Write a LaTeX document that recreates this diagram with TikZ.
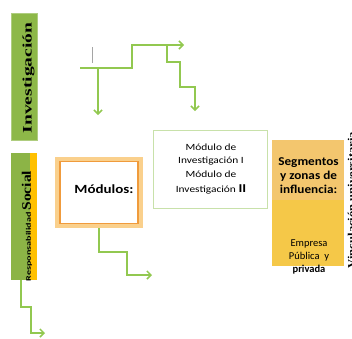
\documentclass[tikz,border=0pt]{standalone}
\usepackage{fontspec}
\setmainfont{Liberation Serif}
\newfontfamily\calib{Carlito}
\usetikzlibrary{arrows.meta}
\definecolor{lgreen}{RGB}{146,200,80}
\definecolor{invgreen}{RGB}{141,184,72}
\definecolor{rgreen}{RGB}{140,180,70}
\definecolor{ryellow}{RGB}{255,192,0}
\definecolor{oglow}{RGB}{250,208,140}
\definecolor{oline}{RGB}{240,155,60}
\definecolor{mgreen}{RGB}{200,225,170}
\definecolor{segtan}{RGB}{243,198,110}
\definecolor{segyel}{RGB}{245,200,72}
\definecolor{lgray}{RGB}{165,165,165}
\tikzset{
  conn/.style={draw=lgreen, line width=1.5pt},
  arr/.style={conn, -{Straight Barb[length=4pt,width=8pt]}},
  grayline/.style={draw=lgray, line width=1pt},
  box/.style={inner sep=0pt, outer sep=0pt},
}
\begin{document}
\begin{tikzpicture}[x=1pt,y=-1pt]
\useasboundingbox (0,0) rectangle (352,338);
% Investigacion
\node[box, fill=invgreen, draw=invgreen!70!white, minimum width=26pt, minimum height=127pt] (invbox) at (24,76.5) {};
\node[rotate=90, inner sep=0pt, font=\bfseries\fontsize{13}{13}\selectfont] (invtxt) at (28.5,78) {\scalebox{1.5}[1]{Investigación}};
% Responsabilidad Social
\node[box, fill=rgreen, minimum width=19pt, minimum height=127pt] (respg) at (20.5,216.5) {};
\node[box, fill=ryellow, minimum width=7pt, minimum height=127pt] (respy) at (33.5,216.5) {};
\node[rotate=90, inner sep=0pt] (resptxt) at (27,226) {\scalebox{1.45}[1]{\calib\bfseries\fontsize{7}{7}\selectfont Responsabilidad}\,\scalebox{1.2}[1]{\bfseries\fontsize{13}{13}\selectfont Social}};
% Modulos
\node[box, fill=oglow, minimum width=88pt, minimum height=71pt] (modglow) at (99,192.5) {};
\node[box, draw=oline, line width=1.2pt, fill=white, minimum width=78pt, minimum height=62pt] (mod) at (99,192.5) {};
\node[inner sep=0pt, font=\calib\bfseries\fontsize{12.5}{14}\selectfont] (modtxt) at (104,189) {\scalebox{1.2}[1]{Módulos:}};
% Modulo de investigacion
\node[box, draw=mgreen, line width=0.8pt, fill=white, minimum width=114pt, minimum height=78pt] (inv2) at (210,169) {};
\node[inner sep=0pt, align=center, font=\calib\fontsize{9.5}{13.5}\selectfont] (inv2txt) at (211,169) {\scalebox{1.2}[1]{\begin{tabular}{@{}c@{}}Módulo de\\Investigación I\\Módulo de\\[2pt]Investigación {\bfseries\fontsize{12}{12}\selectfont II}\end{tabular}}};
% Segmentos
\node[box, fill=segtan, minimum width=72pt, minimum height=60pt] (seg) at (308,170) {};
\node[box, fill=segyel, minimum width=72pt, minimum height=66pt] (emp) at (308,233) {};
\node[inner sep=0pt, align=center, font=\calib\bfseries\fontsize{12}{14}\selectfont] (segtxt) at (308.5,177) {\scalebox{1.1}[1]{\begin{tabular}{@{}c@{}}Segmentos\\y zonas de\\influencia:\end{tabular}}};
\node[inner sep=0pt, align=center, font=\calib\fontsize{10.5}{13}\selectfont] (emptxt) at (309,257) {\begin{tabular}{@{}c@{}}Empresa\\Pública\ \ y\\{\bfseries privada}\end{tabular}};
% Vinculacion
\node[rotate=90, inner sep=0pt, font=\bfseries\fontsize{10.5}{10.5}\selectfont] (vinc) at (351.5,200) {\scalebox{1.2}[1]{Vinculación universitaria}};
% top connectors
\coordinate (g1) at (92,47); \coordinate (g2) at (92,63);
\draw[grayline] (g1) -- (g2);
\coordinate (h0) at (80,68); \coordinate (h1) at (132,68); \coordinate (h2) at (132,45); \coordinate (h3) at (184,45);
\draw[arr] (h0) -- (h1) -- (h2) -- (h3);
\coordinate (d0) at (98,68); \coordinate (d1) at (98,115);
\draw[arr] (d0) -- (d1);
\coordinate (s0) at (167,45); \coordinate (s1) at (167,62); \coordinate (s2) at (180,62);
\coordinate (s3) at (180,87); \coordinate (s4) at (195,87); \coordinate (s5) at (195,111);
\draw[arr] (s0) -- (s1) -- (s2) -- (s3) -- (s4) -- (s5);
% modulos connector
\coordinate (mk1) at (127,252); \coordinate (mk2) at (152,275);
\draw[arr] (modglow.south) |- (mk1) |- (mk2);
% resp connector
\coordinate (rc0) at (21,280); \coordinate (rc1) at (31,307); \coordinate (rc2) at (45,333);
\draw[arr] (rc0) |- (rc1) |- (rc2);
\end{tikzpicture}
\end{document}
